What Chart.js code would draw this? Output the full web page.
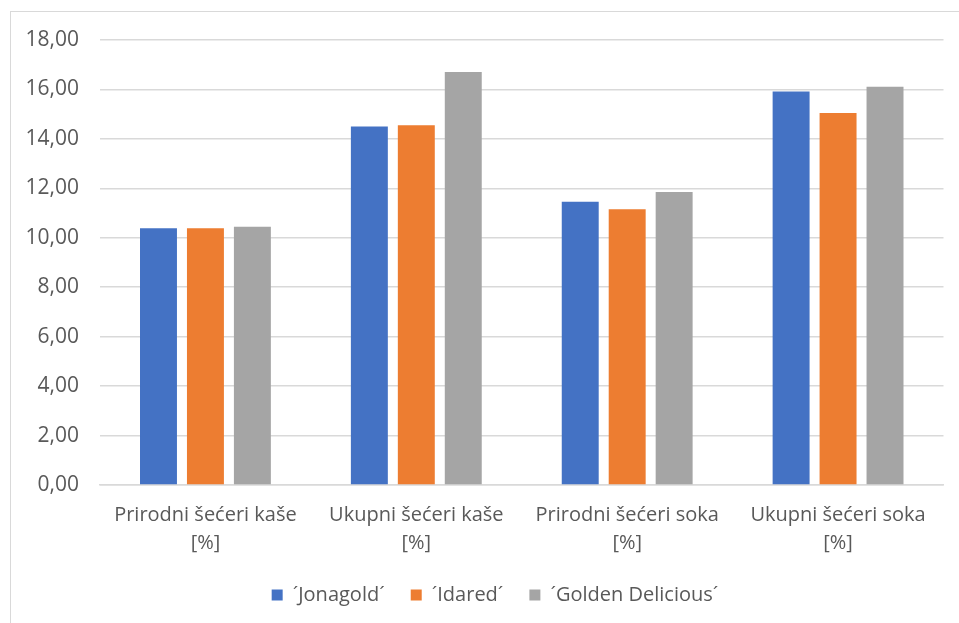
<!DOCTYPE html>
<html>
<head>
<meta charset="utf-8">
<script src="https://cdn.jsdelivr.net/npm/chart.js@4.4.1/dist/chart.umd.min.js"></script>
<style>
  html, body { margin:0; padding:0; background:#fff; overflow:hidden; }
  #frame {
    position:absolute; left:10px; top:11px;
    width:969px; height:640px;
    border:1.5px solid #d9d9d9;
  }
</style>
</head>
<body>
<div id="frame"><canvas id="sugarChart" width="968" height="603"></canvas></div>
<script>
const categories = [
  ["Prirodni šećeri kaše", "[%]"],
  ["Ukupni šećeri kaše", "[%]"],
  ["Prirodni šećeri soka", "[%]"],
  ["Ukupni šećeri soka", "[%]"]
];
const seriesNames = ["´Jonagold´", "´Idared´", "´Golden Delicious´"];
const jonagold = [10.39, 14.50, 11.46, 15.92];
const idared   = [10.39, 14.55, 11.15, 15.05];
const golden   = [10.45, 16.71, 11.85, 16.11];
const colors = ["#4472C4", "#ED7D31", "#A5A5A5"];

const txt = "#595959";
const fontFam = "'Open Sans', 'Liberation Sans', sans-serif";

/* BAR CHART */
const chart = new Chart(document.getElementById("sugarChart"), {
  type: "bar",
  data: {
    labels: categories,
    datasets: [jonagold, idared, golden].map((d, i) => ({
      label: seriesNames[i],
      data: d,
      backgroundColor: colors[i],
      borderWidth: 0,
      categoryPercentage: 0.668,
      barPercentage: 0.787,
      yAxisID: "y"
    }))
  },
  options: {
    responsive: false,
    animation: false,
    layout: { padding: { left: 0, right: 0, top: 28, bottom: 0 } },
    plugins: {
      legend: {
        position: "bottom",
        labels: {
          color: txt,
          font: { family: fontFam, size: 20 },
          boxWidth: 11,
          boxHeight: 11,
          padding: 26
        }
      },
      tooltip: { enabled: false }
    },
    scales: {
      x: {
        grid: { display: false },
        border: { color: "#d9d9d9", width: 1.5 },
        ticks: {
          color: txt,
          font: { family: fontFam, size: 20, lineHeight: 1.42 },
          padding: 8,
          maxRotation: 0
        },
        afterFit: (s) => { s.height = 74; }
      },
      y: {
        min: 0,
        max: 18,
        border: { display: false },
        grid: { color: "#d9d9d9", lineWidth: 1.5, drawTicks: false },
        ticks: {
          stepSize: 2,
          color: txt,
          font: { family: fontFam, size: 21 },
          padding: 21,
          callback: (v) => v.toFixed(2).replace(".", ",")
        },
        afterFit: (s) => { s.width = 89; s.paddingTop = 0; s.paddingBottom = 0; }
      },
      // empty right margin so the legend stays centred on the whole frame
      yRight: {
        position: "right",
        display: true,
        grid: { display: false },
        border: { display: false },
        ticks: { display: false },
        afterFit: (s) => { s.width = 35.5; s.paddingTop = 0; s.paddingBottom = 0; }
      }
    }
  }
});
</script>
</body>
</html>
